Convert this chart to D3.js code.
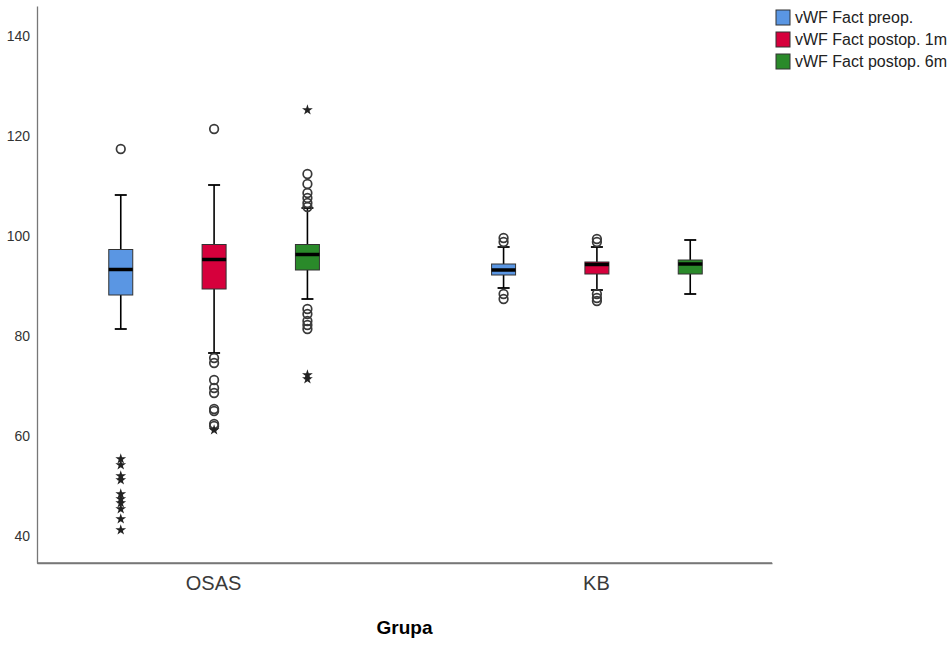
<!DOCTYPE html>
<html>
<head>
<meta charset="utf-8">
<script src="https://cdn.jsdelivr.net/npm/d3@7"></script>
<style>
  body { margin: 0; background: #fff; }
  svg { display: block; font-family: "Liberation Sans", Arial, sans-serif; }
</style>
</head>
<body>
<svg id="chart"></svg>
<script>
// categories
const groups = ["OSAS", "KB"];
const series = ["vWF Fact preop.", "vWF Fact postop. 1m", "vWF Fact postop. 6m"];
const colors = ["#5a96e3", "#d6003c", "#2a8a2a"];
const yTicks = [40, 60, 80, 100, 120, 140];

// [lower whisker, q1, median, q3, upper whisker] per series
const osasStats = [
    [81.4, 88.2, 93.3, 97.3, 108.2],
    [76.6, 89.4, 95.3, 98.3, 110.2],
    [87.4, 93.2, 96.3, 98.3, 105.6]
];
const kbStats = [
    [89.6, 92.2, 93.2, 94.4, 97.8],
    [89.2, 92.4, 94.3, 94.8, 97.8],
    [88.4, 92.4, 94.4, 95.2, 99.2]
];

// outliers (circles) and extremes (stars)
const osasOutliers = [
    [117.4],
    [121.4, 75.6, 74.6, 71.2, 69.6, 68.6, 65.4, 65.0, 62.4, 62.0],
    [112.4, 110.4, 108.6, 107.6, 106.6, 105.8, 85.4, 84.4, 83.0, 82.2, 81.4]
];
const osasExtremes = [
    [55.4, 54.2, 52.0, 51.2, 48.4, 47.4, 46.6, 45.4, 43.4, 41.2],
    [61.2],
    [125.2, 72.2, 71.4]
];
const kbOutliers = [
    [99.6, 98.8, 88.4, 87.4],
    [99.4, 98.8, 88.4, 87.6, 87.0],
    []
];
const kbExtremes = [[], [], []];

const statsByGroup = { OSAS: osasStats, KB: kbStats };
const outByGroup = { OSAS: osasOutliers, KB: kbOutliers };
const extByGroup = { OSAS: osasExtremes, KB: kbExtremes };

const width = 952, height = 645;
const margin = { top: 6, right: 180, bottom: 82, left: 37 };

const svg = d3.select("#chart")
    .attr("width", width)
    .attr("height", height);

const scaleY = d3.scaleLinear()
    .domain([34.6, 146])
    .range([height - margin.bottom, margin.top]);

const scaleX = d3.scalePoint()
    .domain(groups)
    .range([margin.left, width - margin.right])
    .padding(0.46);

const scaleS = d3.scaleBand()
    .domain(series)
    .range([-140, 140]);

const boxW = 24, capW = 12;

// axes
const yAxis = g => g.attr("transform", `translate(${margin.left},0)`)
    .call(d3.axisLeft(scaleY).tickValues(yTicks).tickSize(0).tickPadding(7))
    .call(g => g.select(".domain").attr("stroke", "#777").attr("stroke-width", 1.3))
    .call(g => g.selectAll("text").attr("fill", "#333").style("font-size", "14px"));

const xAxis = g => g.attr("transform", `translate(0,${height - margin.bottom})`)
    .call(d3.axisBottom(scaleX).tickSize(0).tickPadding(13))
    .call(g => g.select(".domain").attr("stroke", "#777").attr("stroke-width", 1.3))
    .call(g => g.selectAll("text").attr("fill", "#3a3a3a").style("font-size", "20px"));

svg.append("g").call(yAxis);
svg.append("g").call(xAxis);
// extend x domain line over the full plot width
svg.append("line")
    .attr("x1", margin.left).attr("x2", width - margin.right)
    .attr("y1", height - margin.bottom).attr("y2", height - margin.bottom)
    .attr("stroke", "#777").attr("stroke-width", 1.3);

svg.append("text")
    .attr("x", (margin.left + width - margin.right) / 2)
    .attr("y", 634)
    .attr("text-anchor", "middle")
    .style("font-size", "19px")
    .style("font-weight", "bold")
    .text("Grupa");

// boxes
const graph = svg.append("g");
groups.forEach(grp => {
    series.forEach((s, i) => {
        const cx = scaleX(grp) + scaleS(s) + scaleS.bandwidth() / 2 + 1;
        const [lo, q1, med, q3, hi] = statsByGroup[grp][i];
        const g = graph.append("g");

        // whisker
        g.append("line")
            .attr("x1", cx).attr("x2", cx)
            .attr("y1", scaleY(lo)).attr("y2", scaleY(hi))
            .attr("stroke", "#000").attr("stroke-width", 1.6);
        [lo, hi].forEach(v => {
            g.append("line")
                .attr("x1", cx - capW / 2).attr("x2", cx + capW / 2)
                .attr("y1", scaleY(v)).attr("y2", scaleY(v))
                .attr("stroke", "#000").attr("stroke-width", 1.8);
        });

        g.append("rect")
            .attr("x", cx - boxW / 2)
            .attr("y", scaleY(q3))
            .attr("width", boxW)
            .attr("height", scaleY(q1) - scaleY(q3))
            .attr("fill", colors[i])
            .attr("stroke", "#333")
            .attr("stroke-width", 1);

        g.append("line")
            .attr("x1", cx - boxW / 2).attr("x2", cx + boxW / 2)
            .attr("y1", scaleY(med)).attr("y2", scaleY(med))
            .attr("stroke", "#000").attr("stroke-width", 3.5);

        g.selectAll(".outlier")
            .data(outByGroup[grp][i])
            .join("circle")
            .attr("class", "outlier")
            .attr("cx", cx)
            .attr("cy", d => scaleY(d))
            .attr("r", 4.3)
            .attr("fill", "none")
            .attr("stroke", "#3a3a3a")
            .attr("stroke-width", 1.7);

        g.selectAll(".extreme")
            .data(extByGroup[grp][i])
            .join("path")
            .attr("class", "extreme")
            .attr("d", d3.symbol(d3.symbolStar, 36))
            .attr("transform", d => `translate(${cx},${scaleY(d)})`)
            .attr("fill", "#222");
    });
});

// legend
const legend = svg.append("g").attr("transform", "translate(776,10)");
series.forEach((s, i) => {
    const row = legend.append("g").attr("transform", `translate(0,${i * 22})`);
    row.append("rect")
        .attr("width", 14).attr("height", 15)
        .attr("fill", colors[i])
        .attr("stroke", "#333").attr("stroke-width", 1);
    row.append("text")
        .attr("x", 19).attr("y", 13)
        .attr("fill", "#222")
        .style("font-size", "16px")
        .text(s);
});
</script>
</body>
</html>
